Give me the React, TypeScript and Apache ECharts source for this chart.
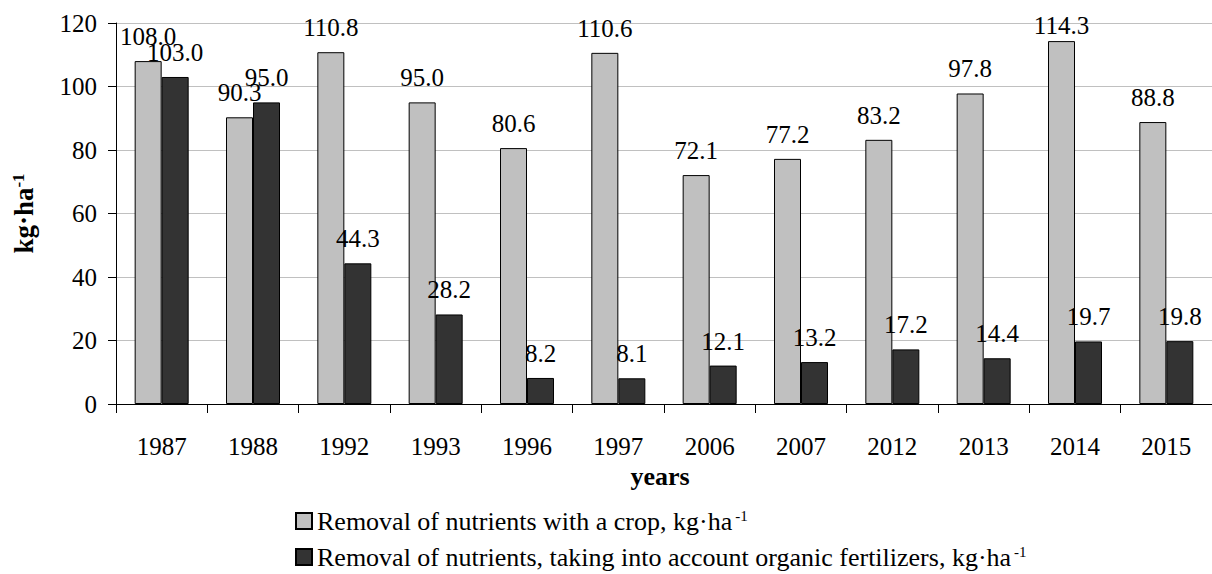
import React, { useEffect, useRef } from "react";
import * as echarts from "echarts";

const years = ["1987", "1988", "1992", "1993", "1996", "1997", "2006", "2007", "2012", "2013", "2014", "2015"];
const removalCrop = [108.0, 90.3, 110.8, 95.0, 80.6, 110.6, 72.1, 77.2, 83.2, 97.8, 114.3, 88.8];
const removalOrganic = [103.0, 95.0, 44.3, 28.2, 8.2, 8.1, 12.1, 13.2, 17.2, 14.4, 19.7, 19.8];
const yMin = 0;
const yMax = 120;
const yInterval = 20;
const seriesNames = [
  "Removal of nutrients with a crop, kg·ha",
  "Removal of nutrients, taking into account organic fertilizers, kg·ha",
];
const xAxisName = "years";
const yAxisName = "kg·ha";

const FONT = "Liberation Serif, Times New Roman, serif";
const FS = 25;

export default function App() {
  const ref = useRef<HTMLDivElement>(null);
  useEffect(() => {
    if (!ref.current) return;
    const chart = echarts.init(ref.current, undefined, { renderer: "svg" });
    const labelStyle = {
      show: true,
      position: "top" as const,
      distance: 12,
      fontSize: FS,
      fontFamily: FONT,
      color: "#000",
      formatter: (p: any) => Number(p.value).toFixed(1),
    };
    const labelLayout = (params: any) => {
      const r = params.labelRect;
      const minTop = 13;
      return r && r.y < minTop ? { dy: minTop - r.y } : {};
    };
    chart.setOption({
      animation: false,
      backgroundColor: "#fff",
      textStyle: { fontFamily: FONT, color: "#000" },
      grid: { left: 116, top: 23, right: -11, bottom: 170, containLabel: false },
      legend: {
        orient: "vertical",
        left: 295,
        top: 508,
        padding: 0,
        itemWidth: 16,
        itemHeight: 16,
        itemGap: 10,
        icon: "rect",
        data: seriesNames,
        formatter: (name: string) => `{t|${name}}{s|-1}`,
        textStyle: {
          fontFamily: FONT,
          color: "#000",
          rich: {
            t: { fontSize: 26, fontFamily: FONT, color: "#000", lineHeight: 26 },
            s: { fontSize: 15, fontFamily: FONT, color: "#000", verticalAlign: "top", lineHeight: 14, padding: [0, 0, 0, 3] },
          },
        },
      },
      xAxis: {
        type: "category",
        data: years,
        boundaryGap: true,
        axisLine: { show: true, lineStyle: { color: "#000", width: 1 } },
        axisTick: { show: true, length: 9, interval: 0, lineStyle: { color: "#000" } },
        axisLabel: { interval: 0, margin: 30, fontSize: FS, fontFamily: FONT, color: "#000" },
        name: xAxisName,
        nameLocation: "middle",
        nameGap: 54,
        nameTextStyle: { fontSize: 26, fontWeight: "bold", fontFamily: FONT, color: "#000", padding: [0, 8, 0, 0] },
      },
      yAxis: {
        type: "value",
        min: yMin,
        max: yMax,
        interval: yInterval,
        axisLine: { show: true, lineStyle: { color: "#000", width: 1 } },
        axisTick: { show: true, length: 8, lineStyle: { color: "#000" } },
        axisLabel: { margin: 19, fontSize: FS, fontFamily: FONT, color: "#000" },
        splitLine: { show: true, lineStyle: { color: "#c0c0c0", width: 1 } },
        name: `{t|${yAxisName}}{s|-1}`,
        nameLocation: "middle",
        nameRotate: 90,
        nameGap: 79,
        nameTextStyle: {
          fontFamily: FONT,
          rich: {
            t: { fontSize: 27, fontWeight: "bold", fontFamily: FONT, color: "#000", lineHeight: 27 },
            s: { fontSize: 17, fontWeight: "bold", fontFamily: FONT, color: "#000", verticalAlign: "top", lineHeight: 14 },
          },
        },
      },
      series: [
        {
          name: seriesNames[0],
          type: "bar",
          data: removalCrop,
          barWidth: 27,
          barGap: "0%",
          itemStyle: { color: "#c0c0c0", borderColor: "#000", borderWidth: 1 },
          label: labelStyle,
          labelLayout,
        },
        {
          name: seriesNames[1],
          type: "bar",
          data: removalOrganic,
          barWidth: 27,
          barGap: "0%",
          itemStyle: { color: "#333333", borderColor: "#000", borderWidth: 1 },
          label: labelStyle,
          labelLayout,
        },
      ],
    });
    return () => chart.dispose();
  }, []);
  return (
    <div
      ref={ref}
      style={{ position: "fixed", left: 0, top: 0, width: 1212, height: 574, background: "#fff" }}
    />
  );
}
